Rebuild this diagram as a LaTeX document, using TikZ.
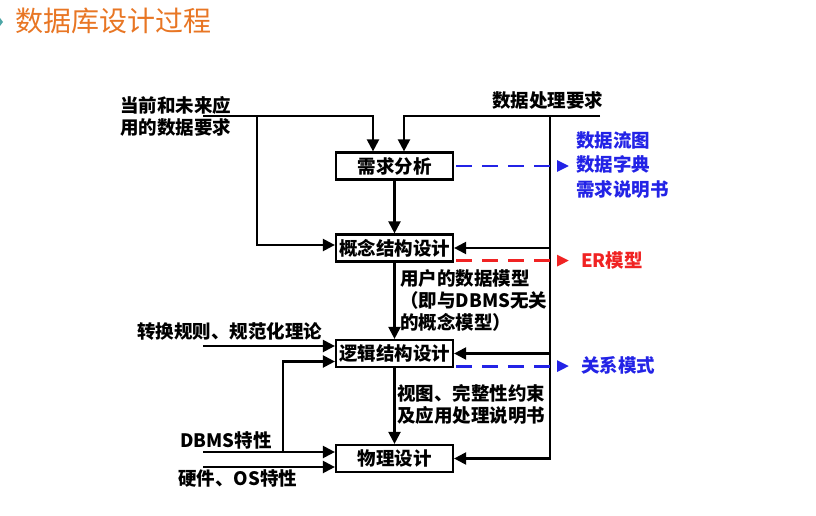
\documentclass[tikz,border=0pt]{standalone}
\usepackage{fontspec}
\newfontfamily\cjk{Noto Sans CJK SC}
\usepackage{tikz}
\usetikzlibrary{arrows.meta}
\usetikzlibrary{positioning}
\definecolor{titre}{RGB}{232,118,36}
\definecolor{bleu}{RGB}{35,35,230}
\definecolor{rouge}{RGB}{240,35,35}
\tikzstyle{etape}=[
        rectangle,
        draw,
        line width=2.2pt,
        minimum width=117pt,
        minimum height=27pt,
        inner sep=0pt,
        font=\cjk\bfseries\fontsize{18.5}{23}\selectfont
]
\tikzstyle{texte}=[inner sep=0pt,align=left,anchor=west,font=\cjk\bfseries\fontsize{18.5}{22}\selectfont]
\tikzstyle{fleche}=[-{Triangle[length=12pt,width=12pt]},line width=2.2pt]
\tikzstyle{pointille}=[-{Triangle[length=12pt,width=11pt]},line width=2.8pt,dash pattern=on 16pt off 10pt]

\begin{document}
\begin{tikzpicture}[x=1pt,y=-1pt]
\useasboundingbox (0,0) rectangle (816,516);
\fill[teal!70] (0,18) -- (3,22) -- (0,26) -- cycle;
\node[anchor=west,inner sep=0pt,text=titre,font=\cjk\fontsize{28}{30}\selectfont] (titre) at (15,21) {数据库设计过程};
\node[etape] (besoin) at (394.5,166) {需求分析};
\node[etape] (concept) at (394.5,248) {概念结构设计};
\node[etape] (logique) at (394.5,353.5) {逻辑结构设计};
\node[etape] (physique) at (394.5,458.5) {物理设计};
\node[texte] (donnees) at (120,116.5) {当前和未来应\\用的数据要求};
\node[texte] (traitement) at (492,100) {数据处理要求};
\node[texte,text=bleu,font=\cjk\bfseries\fontsize{18.5}{24.5}\selectfont] (docs) at (576,165) {数据流图\\数据字典\\需求说明书};
\node[texte,text=rouge] (er) at (581,260) {ER模型};
\node[texte,text=bleu] (relation) at (581,365) {关系模式};
\node[texte] (modele) at (400,300) {用户的数据模型\\（即与DBMS无关\\的概念模型）};
\node[texte] (vues) at (397,404) {视图、完整性约束\\及应用处理说明书};
\node[texte] (regles) at (137,331) {转换规则、规范化理论};
\node[texte] (dbms) at (180,440) {DBMS特性};
\node[texte] (materiel) at (178,478) {硬件、OS特性};
\coordinate (entA) at (203,116);
\coordinate (brA) at (257,116);
\coordinate (entB) at (600,116);
\coordinate (droite) at (550,116);
\coordinate (entC) at (203,346);
\coordinate (entD) at (203,452);
\coordinate (brD) at (283,452);
\coordinate (entE) at (203,467);
\coordinate (finA) at (569,166);
%fleches
\draw[fleche] (entA) -| ([xshift=-21.5pt]besoin.north);
\draw[fleche] (brA) |- ([yshift=3pt]concept.west);
\draw[fleche] (entB) -| ([xshift=9.5pt]besoin.north);
\draw[fleche] (droite) |- (physique.east);
\draw[fleche] (droite |- concept.east) -- (concept.east);
\draw[fleche] (droite |- logique.east) -- (logique.east);
\draw[fleche] (besoin) -- (concept);
\draw[fleche] (concept) -- (logique);
\draw[fleche] (logique) -- (physique);
\draw[fleche] (entC) -- (entC -| logique.west);
\draw[fleche] (brD) |- ([yshift=-8pt]logique.west);
\draw[fleche] (entD) -- (entD -| physique.west);
\draw[fleche] (entE) -- (entE -| physique.west);
%pointilles
\draw[pointille,bleu] ([xshift=2pt]besoin.east) -- (finA);
\draw[pointille,rouge] ([xshift=2pt,yshift=2pt]concept.south east) -- ([yshift=2pt]concept.south east -| finA);
\draw[pointille,bleu] ([xshift=2pt,yshift=2pt]logique.south east) -- ([yshift=2pt]logique.south east -| finA);
\end{tikzpicture}
\end{document}
